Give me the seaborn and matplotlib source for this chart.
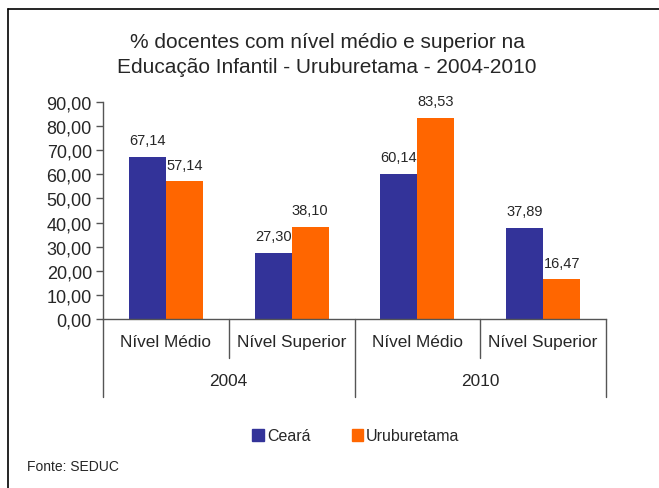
import pandas as pd
import matplotlib.pyplot as plt
import seaborn as sns
from matplotlib.lines import Line2D

# data
years = ["2004", "2010"]
levels = ["Nível Médio", "Nível Superior"]
categories = ["2004 Nível Médio", "2004 Nível Superior", "2010 Nível Médio", "2010 Nível Superior"]
ceara = [67.14, 27.30, 60.14, 37.89]
uruburetama = [57.14, 38.10, 83.53, 16.47]
series = ["Ceará", "Uruburetama"]
colors = ["#333399", "#FF6600"]

df = pd.DataFrame({
    "cat": categories * 2,
    "serie": [series[0]] * 4 + [series[1]] * 4,
    "valor": ceara + uruburetama,
})

sns.set_style("white")
plt.rcParams["font.family"] = ["Liberation Sans", "DejaVu Sans"]

fig = plt.figure(figsize=(6.59, 4.89), dpi=100)
ax = fig.add_axes([103 / 659, 1 - 320 / 489, 503 / 659, 217 / 489])

sns.barplot(data=df, x="cat", y="valor", hue="serie", order=categories,
            hue_order=series, palette=colors, width=0.59, saturation=1,
            linewidth=0, ax=ax, legend=False)

ax.set_ylim(0, 90)
ax.set_xlim(-0.5, 3.5)
ax.set_yticks(range(0, 91, 10))
ax.set_yticklabels([f"{v:.2f}".replace(".", ",") for v in range(0, 91, 10)], fontsize=13)
ax.set_xticks([])
ax.set_xlabel("")
ax.set_ylabel("")
for s in ["top", "right"]:
    ax.spines[s].set_visible(False)
for s in ["left", "bottom"]:
    ax.spines[s].set_color("#555555")
    ax.spines[s].set_linewidth(1)
ax.tick_params(axis="y", left=True, length=5, width=1, color="#555555", pad=3)

# value labels
for cont in ax.containers:
    ax.bar_label(cont, labels=[f"{v:.2f}".replace(".", ",") for v in cont.datavalues],
                 padding=7, fontsize=10.5)

# hierarchical category axis
trans = ax.get_xaxis_transform()
for i in range(5):
    depth = -0.36 if i % 2 == 0 else -0.18
    ax.add_line(Line2D([i - 0.5, i - 0.5], [0, depth], transform=trans,
                       color="#555555", lw=1, clip_on=False))
for i, c in enumerate(categories):
    ax.text(i, -0.105, levels[i % 2], transform=trans, ha="center", va="center", fontsize=12.4)
for j, y in enumerate(years):
    ax.text(2 * j + 0.5, -0.285, y, transform=trans, ha="center", va="center", fontsize=12.4)

fig.text(327 / 659, 1 - 55 / 489,
         "% docentes com nível médio e superior na\nEducação Infantil - Uruburetama - 2004-2010",
         ha="center", va="center", fontsize=15, linespacing=1.35)

handles = [plt.Rectangle((0, 0), 1, 1, color=c) for c in colors]
fig.legend(handles, series, loc="center", bbox_to_anchor=(356 / 659, 1 - 437 / 489),
           ncol=2, frameon=False, fontsize=11.5, handlelength=0.7, handleheight=0.7,
           handletextpad=0.2, columnspacing=2.6)

fig.text(27 / 659, 1 - 467 / 489, "Fonte: SEDUC", ha="left", va="center", fontsize=10)

# outer border (top and left only, as in the reference)
fig.add_artist(Line2D([8 / 659, 1], [1 - 10 / 489, 1 - 10 / 489], transform=fig.transFigure,
                      color="black", lw=1.2))
fig.add_artist(Line2D([8 / 659, 8 / 659], [1 - 10 / 489, 0], transform=fig.transFigure,
                      color="black", lw=1.2))

fig.savefig("out.png", dpi=100)
